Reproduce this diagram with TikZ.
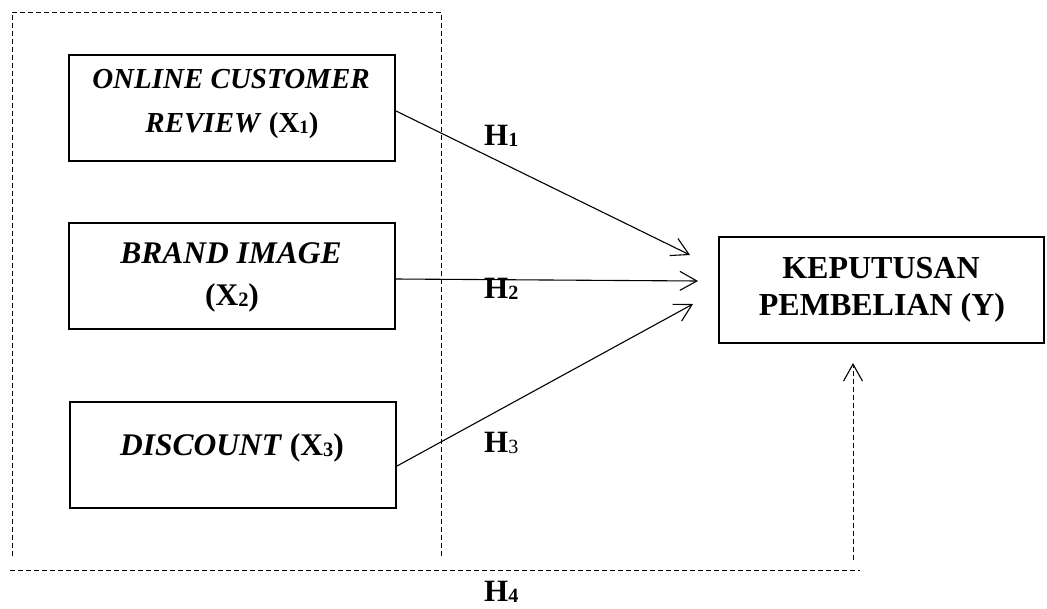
\documentclass[tikz,border=0pt]{standalone}
\usepackage{fontspec}
\setmainfont{Liberation Serif}
\usetikzlibrary{arrows.meta}
% small digit sitting just under the baseline
\newcommand\lowsub[1]{\raisebox{-0.06em}{\fontsize{0.65em}{0.65em}\selectfont #1}}
\tikzset{
  varbox/.style={draw, line width=2pt, rectangle, minimum width=326pt, minimum height=106pt, inner sep=0pt},
  boxtext/.style={anchor=base, inner sep=0pt, font=\fontsize{31.5}{36}\selectfont\bfseries},
  smalltext/.style={boxtext, font=\fontsize{29}{34}\selectfont\bfseries},
  hlabel/.style={anchor=base west, inner sep=0pt, font=\fontsize{31}{36}\selectfont\bfseries},
  link/.style={line width=1.1pt, -{Straight Barb[length=17pt, width=19pt, line width=1.1pt]}},
  frame/.style={line width=1pt, dash pattern=on 5pt off 3pt},
}
\begin{document}
\begin{tikzpicture}[x=1pt, y=-1pt]
\useasboundingbox (0,0) rectangle (1047,608);

% independent variables
\node[varbox] (x1) at (232,107.5) {};
\node[smalltext] (x1a) at (231,88) {\itshape ONLINE CUSTOMER};
\node[smalltext] (x1b) at (232,132) {\textit{REVIEW} (X\lowsub{1})};

\node[varbox] (x2) at (231.5,275.5) {};
\node[boxtext] (x2a) at (231,263) {\itshape BRAND IMAGE};
\node[boxtext] (x2b) at (232,305) {(X\lowsub{2})};

\node[varbox] (x3) at (233,455) {};
\node[boxtext] (x3a) at (232,455) {\textit{DISCOUNT} (X\lowsub{3})};

% dependent variable
\node[varbox, minimum width=325pt] (y) at (881.5,290) {};
\node[boxtext, font=\fontsize{32}{36}\selectfont\bfseries] (ya) at (881,278) {KEPUTUSAN};
\node[boxtext, font=\fontsize{32}{36}\selectfont\bfseries] (yb) at (882,315) {PEMBELIAN (Y)};

% arrow ends in front of the dependent box
\coordinate (e1) at (690,255);
\coordinate (e2) at (698,281);
\coordinate (e3) at (693,304);
\coordinate (e4) at (853,363);

% simultaneous frame around the predictors
\coordinate (ftl) at (12,12);
\coordinate (ftr) at (441,12);
\coordinate (fbl) at (12,556);
\coordinate (fbr) at (441,557);
\coordinate (bl) at (10,570);
\coordinate (br) at (860,570);
\coordinate (s4) at (853,560);

\draw[frame] (fbl) -- (ftl) -- (ftr) -- (fbr);
\draw[frame] (bl) -- (br);
\draw[frame, -{Straight Barb[length=17pt, width=19pt, line width=1.1pt]}] (s4) -- (e4);

% partial effects
\draw[link] ([yshift=-3.5pt]x1.east) -- (e1);
\draw[link] ([yshift=-3.5pt]x2.east) -- (e2);
\draw[link] ([yshift=-11pt]x3.east) -- (e3);

% hypothesis labels
\node[hlabel] (h1) at (484,145) {H\lowsub{1}};
\node[hlabel] (h2) at (484,298) {H\lowsub{2}};
\node[hlabel] (h3) at (484,452) {H\lowsub{\mdseries 3}};
\node[hlabel] (h4) at (484,601) {H\lowsub{4}};
\end{tikzpicture}
\end{document}
